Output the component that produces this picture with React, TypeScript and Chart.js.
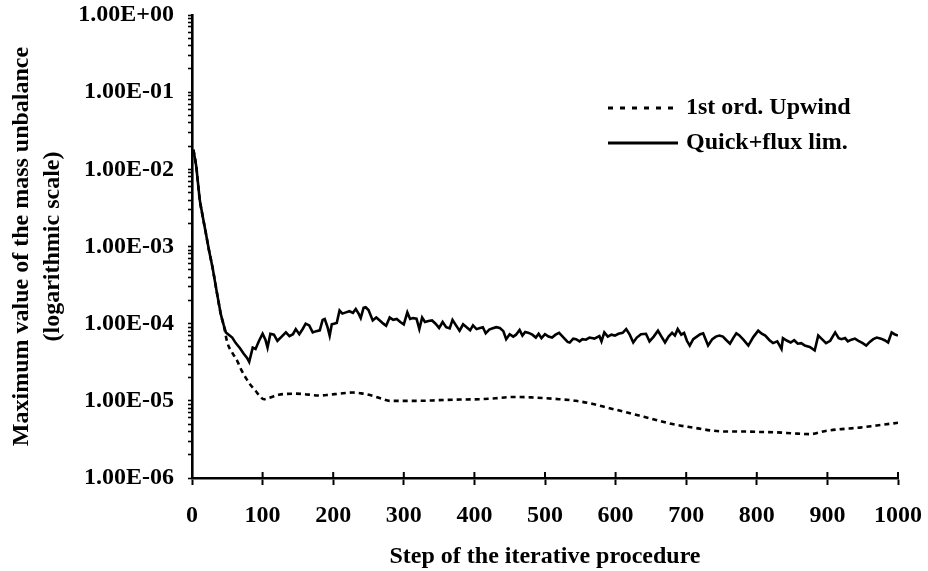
import React, { useEffect, useRef } from "react";
import { Chart, registerables } from "chart.js";

Chart.register(...registerables);

// ---- data ----
const quickSteps = [
  2, 6, 11, 15, 19, 24, 29, 35, 41, 45, 48, 52, 57, 62, 68, 73, 78, 81, 86, 90, 95, 100,
  104, 107, 111, 116, 121, 127, 133, 138, 143, 147, 152, 157, 161, 166, 171, 176, 181, 185,
  188, 192, 195, 198, 201, 205, 209, 213, 218, 223, 228, 232, 236, 239, 243, 246, 250, 256,
  261, 266, 271, 275, 280, 285, 290, 295, 300, 305, 309, 313, 318, 322, 326, 330, 335, 340,
  345, 350, 355, 360, 365, 369, 374, 379, 384, 389, 394, 398, 403, 408, 412, 416, 421, 426,
  431, 436, 441, 445, 450, 455, 459, 464, 468, 472, 477, 482, 487, 491, 495, 500, 505, 510,
  515, 520, 527, 532, 535, 540, 544, 549, 553, 558, 563, 570, 577, 580, 584, 589, 594, 599,
  604, 610, 615, 620, 625, 630, 636, 643, 648, 654, 660, 665, 670, 675, 680, 684, 688, 693,
  697, 701, 705, 710, 716, 720, 724, 731, 737, 742, 747, 752, 757, 762, 767, 771, 775, 781,
  788, 795, 802, 807, 812, 818, 823, 829, 835, 837, 843, 848, 853, 858, 863, 868, 875, 882,
  887, 893, 898, 904, 911, 916, 920, 925, 929, 934, 939, 944, 950, 955, 960, 965, 970, 976,
  981, 986, 991, 995, 1000,
];
const quickValues = [
  1.8e-2, 1.1e-2, 4e-3, 2.5e-3, 1.6e-3, 9e-4, 5.4e-4, 2.6e-4, 1.3e-4, 9.5e-5, 7.7e-5, 7.2e-5,
  6.6e-5, 5.6e-5, 4.8e-5, 4.1e-5, 3.6e-5, 3.2e-5, 4.9e-5, 4.7e-5, 6.0e-5, 7.4e-5,
  6.2e-5, 4.9e-5, 7.4e-5, 7.2e-5, 6.0e-5, 6.8e-5, 7.7e-5, 6.9e-5, 7.3e-5, 8.5e-5, 7.3e-5,
  8.6e-5, 1.0e-4, 9.5e-5, 7.7e-5, 8.0e-5, 8.2e-5, 1.12e-4,
  1.15e-4, 9.0e-5, 7.0e-5, 9.8e-5, 1.0e-4, 1.02e-4, 1.48e-4, 1.35e-4, 1.4e-4, 1.45e-4,
  1.38e-4, 1.55e-4, 1.35e-4, 1.18e-4, 1.6e-4, 1.63e-4, 1.5e-4, 1.1e-4,
  1.2e-4, 1.1e-4, 1.0e-4, 9.4e-5, 1.2e-4, 1.12e-4, 1.15e-4, 1.05e-4, 9.8e-5, 1.4e-4,
  1.15e-4, 1.18e-4, 1.16e-4, 8.5e-5, 1.2e-4, 1.05e-4, 1.08e-4, 1.1e-4,
  1.0e-4, 8.8e-5, 1.05e-4, 9.0e-5, 8.7e-5, 1.12e-4, 9.5e-5, 8.1e-5, 9.8e-5, 9.0e-5,
  8.2e-5, 9.5e-5, 8.5e-5, 8.8e-5, 9.0e-5, 7.5e-5, 8.4e-5, 8.7e-5,
  9.0e-5, 8.8e-5, 8.0e-5, 6.3e-5, 7.3e-5, 6.8e-5, 7.2e-5, 8.3e-5, 7.0e-5, 7.8e-5, 7.6e-5,
  7.2e-5, 6.6e-5, 7.4e-5, 6.5e-5, 7.3e-5, 6.8e-5, 6.6e-5,
  7.2e-5, 7.6e-5, 6.5e-5, 5.8e-5, 5.7e-5, 6.4e-5, 6.3e-5, 5.9e-5, 6.3e-5, 6.2e-5, 6.6e-5,
  6.4e-5, 6.9e-5, 5.9e-5, 7.7e-5, 6.8e-5, 7.2e-5, 7.0e-5,
  7.4e-5, 7.6e-5, 8.5e-5, 7.2e-5, 5.7e-5, 6.6e-5, 7.3e-5, 7.4e-5, 5.9e-5, 6.8e-5, 8.1e-5,
  6.8e-5, 5.7e-5, 6.8e-5, 7.6e-5, 7.0e-5, 8.5e-5, 7.2e-5,
  7.6e-5, 6.0e-5, 5.2e-5, 6.3e-5, 6.9e-5, 7.3e-5, 7.5e-5, 5.2e-5, 6.3e-5, 6.8e-5, 7.0e-5,
  6.8e-5, 6.1e-5, 5.5e-5, 6.6e-5, 7.5e-5, 7.1e-5, 6.2e-5,
  5.2e-5, 6.7e-5, 8.1e-5, 7.4e-5, 7.0e-5, 6.1e-5, 5.6e-5, 5.9e-5, 4.7e-5, 6.5e-5, 6.0e-5,
  5.7e-5, 6.1e-5, 5.5e-5, 5.6e-5, 5.2e-5, 5.0e-5, 4.5e-5,
  7.0e-5, 6.2e-5, 5.6e-5, 6.0e-5, 7.7e-5, 6.5e-5, 6.3e-5, 6.5e-5, 5.9e-5, 6.2e-5, 6.4e-5,
  6.0e-5, 5.6e-5, 5.2e-5, 5.8e-5, 6.3e-5, 6.6e-5, 6.4e-5,
  6.1e-5, 5.7e-5, 7.7e-5, 7.3e-5, 7.0e-5,
];

const upwindSteps = [
  2, 6, 11, 15, 19, 24, 29, 35, 41, 45, 50, 57, 64, 70, 76, 83, 90, 96, 102, 110, 123, 135,
  147, 160, 170, 180, 195, 209, 227, 240, 256, 268, 280, 300, 320, 350, 380, 407, 430, 454,
  480, 502, 520, 544, 568, 590, 615, 640, 662, 685, 710, 738, 760, 781, 805, 828, 850, 875,
  899, 920, 946, 970, 1000,
];
const upwindValues = [
  1.8e-2, 1.1e-2, 4e-3, 2.5e-3, 1.6e-3, 9e-4, 5.4e-4, 2.6e-4, 1.3e-4, 9.5e-5, 5.7e-5, 4.2e-5,
  3.3e-5, 2.5e-5, 2.0e-5, 1.6e-5, 1.35e-5, 1.15e-5, 1.05e-5, 1.1e-5, 1.2e-5, 1.23e-5,
  1.24e-5, 1.22e-5, 1.19e-5, 1.17e-5, 1.2e-5, 1.24e-5, 1.28e-5, 1.25e-5, 1.16e-5, 1.07e-5,
  1.0e-5, 1.0e-5, 1.0e-5, 1.02e-5, 1.04e-5, 1.05e-5, 1.08e-5, 1.12e-5,
  1.11e-5, 1.08e-5, 1.05e-5, 1.0e-5, 9.1e-6, 8.1e-6, 7.1e-6, 6.2e-6, 5.5e-6, 4.9e-6, 4.5e-6,
  4.1e-6, 4.0e-6, 4.0e-6, 3.95e-6, 3.9e-6, 3.8e-6, 3.7e-6,
  4.1e-6, 4.3e-6, 4.5e-6, 4.8e-6, 5.2e-6,
];

const seriesLabels = ["1st ord. Upwind", "Quick+flux lim."];

const xTicks = [0, 100, 200, 300, 400, 500, 600, 700, 800, 900, 1000];
const xTickLabels = ["0", "100", "200", "300", "400", "500", "600", "700", "800", "900", "1000"];
const yDecadeExponents = [-6, -5, -4, -3, -2, -1, 0];
const yDecadeLabels = ["1.00E-06", "1.00E-05", "1.00E-04", "1.00E-03", "1.00E-02", "1.00E-01", "1.00E+00"];
const yMinorFactors = [2, 3, 4, 5, 6, 7, 8, 9];

const xTitle = "Step of the iterative procedure";
const yTitle = ["Maximum value of the mass unbalance", "(logarithmic scale)"];

const FONT = "'Liberation Serif', 'Times New Roman', serif";

function buildYTicks() {
  const ticks: { value: number; major: boolean }[] = [];
  yDecadeExponents.forEach((e, i) => {
    ticks.push({ value: Math.pow(10, e), major: true });
    if (i < yDecadeExponents.length - 1) {
      yMinorFactors.forEach((f) => ticks.push({ value: f * Math.pow(10, e), major: false }));
    }
  });
  return ticks;
}

function labelForValue(v: number) {
  const exp = Math.log10(v);
  const r = Math.round(exp);
  if (Math.abs(exp - r) < 1e-9) {
    const idx = yDecadeExponents.indexOf(r);
    return idx >= 0 ? yDecadeLabels[idx] : "";
  }
  return "";
}

// small tick stubs above the x axis so the x ticks cross the axis line
const crossTickPlugin = {
  id: "crossTicks",
  afterDraw(chart: any) {
    const ctx = chart.ctx;
    const xs = chart.scales.x;
    const yBottom = chart.chartArea.bottom;
    ctx.save();
    ctx.strokeStyle = "#000";
    ctx.lineWidth = 2;
    xTicks.forEach((v) => {
      const px = xs.getPixelForValue(v);
      ctx.beginPath();
      ctx.moveTo(px, yBottom - 6);
      ctx.lineTo(px, yBottom);
      ctx.stroke();
    });
    ctx.restore();
  },
};

const legendPlugin = {
  id: "customLegend",
  afterDraw(chart: any) {
    const ctx = chart.ctx;
    const area = chart.chartArea;
    const x0 = area.left + 416;
    const x1 = x0 + 70;
    const rows = [
      { y: area.top + 93, dash: [5, 7], label: seriesLabels[0] },
      { y: area.top + 128, dash: [], label: seriesLabels[1] },
    ];
    ctx.save();
    rows.forEach((r) => {
      ctx.beginPath();
      ctx.setLineDash(r.dash);
      ctx.lineWidth = 3;
      ctx.strokeStyle = "#000";
      ctx.moveTo(x0, r.y);
      ctx.lineTo(x1, r.y);
      ctx.stroke();
      ctx.setLineDash([]);
      ctx.fillStyle = "#000";
      ctx.font = `bold 24px ${FONT}`;
      ctx.textAlign = "left";
      ctx.textBaseline = "middle";
      ctx.fillText(r.label, x1 + 8, r.y);
    });
    ctx.restore();
  },
};

export default function App() {
  const ref = useRef<HTMLCanvasElement | null>(null);
  useEffect(() => {
    if (!ref.current) return;
    const upwindData = upwindSteps.map((s, i) => ({ x: s, y: upwindValues[i] }));
    const quickData = quickSteps.map((s, i) => ({ x: s, y: quickValues[i] }));
    const chart = new Chart(ref.current, {
      type: "line",
      data: {
        datasets: [
          {
            label: seriesLabels[1],
            data: quickData,
            borderColor: "#000",
            borderWidth: 2.6,
            pointRadius: 0,
            tension: 0,
            order: 0,
          },
          {
            label: seriesLabels[0],
            data: upwindData,
            borderColor: "#000",
            borderWidth: 2.6,
            borderDash: [5, 4],
            pointRadius: 0,
            cubicInterpolationMode: "monotone",
            order: 1,
          },
        ],
      },
      options: {
        responsive: false,
        animation: false,
        layout: { padding: { left: 0, top: 15, right: 30, bottom: 0 } },
        plugins: { legend: { display: false }, tooltip: { enabled: false } },
        scales: {
          x: {
            type: "linear",
            min: 0,
            max: 1000,
            afterBuildTicks: (scale: any) => {
              scale.ticks = xTicks.map((v) => ({ value: v }));
            },
            afterFit: (scale: any) => {
              scale.height = 93;
              scale.paddingLeft = 0;
              scale.paddingRight = 0;
            },
            ticks: {
              autoSkip: false,
              maxRotation: 0,
              padding: 16,
              color: "#000",
              font: { family: FONT, size: 24, weight: "bold", lineHeight: 1.2 },
              callback: (value: any) => {
                const i = xTicks.indexOf(Number(value));
                return i >= 0 ? xTickLabels[i] : "";
              },
            },
            grid: {
              display: true,
              drawOnChartArea: false,
              drawTicks: true,
              tickLength: 7,
              tickWidth: 2,
              tickColor: "#000",
            },
            border: { display: true, color: "#000", width: 2.6 },
            title: {
              display: true,
              text: xTitle,
              color: "#000",
              padding: { top: 0, bottom: 0 },
              font: { family: FONT, size: 24, weight: "bold", lineHeight: 1.2 },
            },
          },
          y: {
            type: "logarithmic",
            min: 1e-6,
            max: 1,
            afterBuildTicks: (scale: any) => {
              scale.ticks = buildYTicks();
            },
            afterFit: (scale: any) => {
              scale.width = 192;
              scale.paddingTop = 0;
              scale.paddingBottom = 0;
            },
            ticks: {
              autoSkip: false,
              padding: 14,
              color: "#000",
              font: { family: FONT, size: 24, weight: "bold", lineHeight: 1.2 },
              callback: (value: any) => labelForValue(Number(value)),
            },
            grid: {
              display: true,
              drawOnChartArea: false,
              drawTicks: true,
              tickLength: 4,
              tickWidth: 1.6,
              tickColor: "#000",
            },
            border: { display: true, color: "#000", width: 2.6 },
            title: {
              display: true,
              text: yTitle,
              color: "#000",
              padding: { top: 6, bottom: 0 },
              font: { family: FONT, size: 24, weight: "bold", lineHeight: 1.3 },
            },
          },
        },
      },
      plugins: [crossTickPlugin, legendPlugin],
    } as any);
    return () => chart.destroy();
  }, []);
  return (
    <div style={{ position: "absolute", left: 0, top: 0, width: 928, height: 571, background: "#fff" }}>
      <canvas ref={ref} width={928} height={571} />
    </div>
  );
}
